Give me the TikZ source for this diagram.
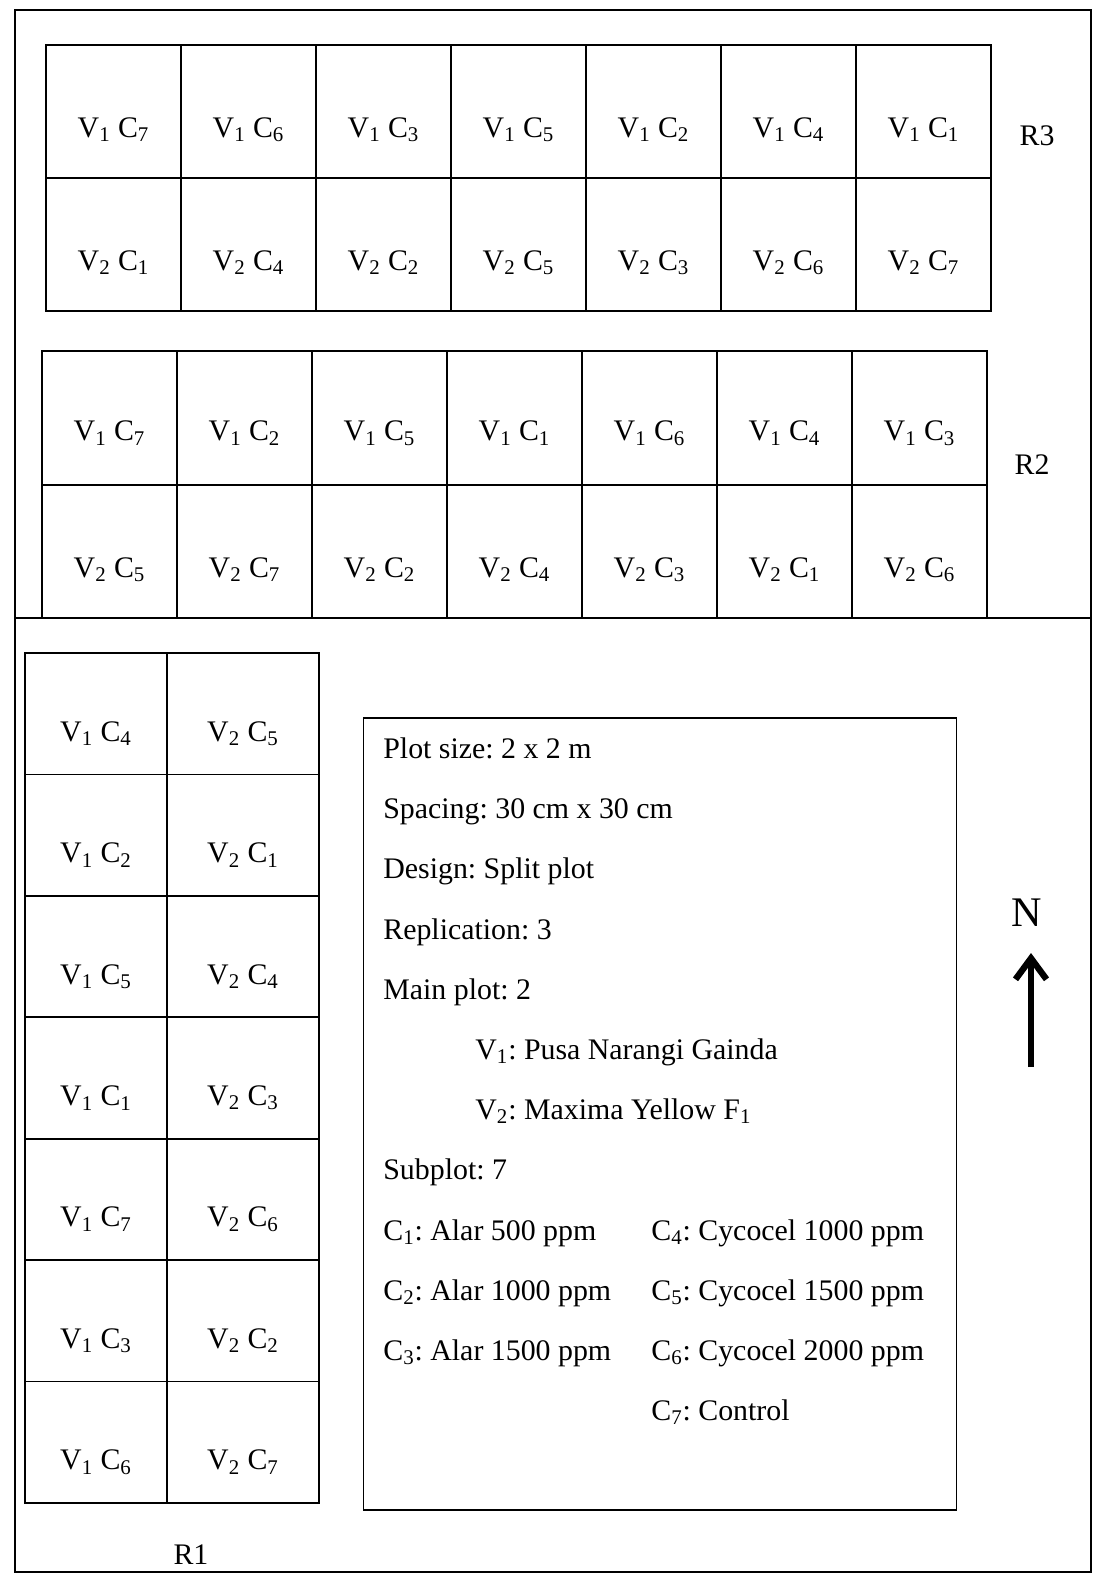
\documentclass[tikz,border=0pt]{standalone}
\usepackage{fontspec}
\setmainfont{Liberation Serif}
\usetikzlibrary{arrows.meta,positioning}
\frenchspacing
\newcommand{\vc}[2]{V\textsubscript{#1} C\textsubscript{#2}}
\tikzset{
  fieldframe/.style={draw,line width=1pt},
  cell/.style={draw,rectangle,line width=1pt,minimum width=2.7cm,minimum height=2.66cm,inner sep=0pt},
  celltxt/.style={font=\fontsize{17}{20}\selectfont,inner sep=0pt},
  replbl/.style={font=\fontsize{17}{20}\selectfont,inner sep=0pt},
  infobox/.style={draw,rectangle,line width=1pt,minimum width=11.86cm,minimum height=15.84cm},
  infotxt/.style={font=\fontsize{17}{20}\selectfont,anchor=base west,inner sep=0pt},
  northarr/.style={-{Straight Barb[length=0.42cm,width=0.62cm]},line width=3.6pt}
}
\begin{document}
\begin{tikzpicture}[x=0.02cm,y=-0.02cm]
  \useasboundingbox (0,0) rectangle (1096,1578);
  % field outline and the line between R2 and R1
  \draw[fieldframe] (15,10) rectangle (1091,1572);
  \draw[fieldframe] (15,618) -- (1091,618);

  % R3
  \foreach \c [count=\i from 0] in {7,6,3,5,2,4,1} {
    \node[cell] (r3a\i) at (113.5+135*\i,111.5) {};
    \node[celltxt] (t3a\i) at ([yshift=-0.36cm]r3a\i.center) {\vc{1}{\c}};
  }
  \foreach \c [count=\i from 0] in {1,4,2,5,3,6,7} {
    \node[cell] (r3b\i) at (113.5+135*\i,244.5) {};
    \node[celltxt] (t3b\i) at ([yshift=-0.36cm]r3b\i.center) {\vc{2}{\c}};
  }
  \node[replbl] (rthree) at (1037,136) {R3};

  % R2
  \foreach \c [count=\i from 0] in {7,2,5,1,6,4,3} {
    \node[cell, minimum height=2.67cm] (r2a\i) at (109.5+135*\i,418) {};
    \node[celltxt] (t2a\i) at ([yshift=-0.3cm]r2a\i.center) {\vc{1}{\c}};
  }
  \foreach \c [count=\i from 0] in {5,7,2,4,3,1,6} {
    \node[cell, minimum height=2.67cm] (r2b\i) at (109.5+135*\i,551.5) {};
    \node[celltxt] (t2b\i) at ([yshift=-0.36cm]r2b\i.center) {\vc{2}{\c}};
  }
  \node[replbl] (rtwo) at (1032,465) {R2};

  % R1
  \foreach \a/\b [count=\i from 0] in {4/5,2/1,5/4,1/3,7/6,3/2,6/7} {
    \node[cell, minimum width=2.84cm, minimum height=2.428cm] (r1a\i) at (96,713.7+121.4*\i) {};
    \node[cell, minimum width=3.04cm, minimum height=2.428cm] (r1b\i) at (243,713.7+121.4*\i) {};
    \node[celltxt] (t1a\i) at ([yshift=-0.4cm]r1a\i.center) {\vc{1}{\a}};
    \node[celltxt] (t1b\i) at ([yshift=-0.4cm]r1b\i.center) {\vc{2}{\b}};
  }
  \node[replbl] (rone) at (191,1555) {R1};

  % details of the trial
  \node[infobox] (info) at (660,1114) {};
  \node[infotxt] (psize) at (383,758) {Plot size: 2 x 2 m};
  \node[infotxt] (spacing) at (383,818) {Spacing: 30 cm x 30 cm};
  \node[infotxt] (design) at (383,878) {Design: Split plot};
  \node[infotxt] (repl) at (383,939) {Replication: 3};
  \node[infotxt] (mainplot) at (383,999) {Main plot: 2};
  \node[infotxt] (vone) at (475,1059) {V\textsubscript{1}: Pusa Narangi Gainda};
  \node[infotxt] (vtwo) at (475,1119) {V\textsubscript{2}: Maxima Yellow F\textsubscript{1}};
  \node[infotxt] (subplot) at (383,1179) {Subplot: 7};
  \node[infotxt] (cone) at (383,1240) {C\textsubscript{1}: Alar 500 ppm};
  \node[infotxt] (ctwo) at (383,1300) {C\textsubscript{2}: Alar 1000 ppm};
  \node[infotxt] (cthree) at (383,1360) {C\textsubscript{3}: Alar 1500 ppm};
  \node[infotxt] (cfour) at (651,1240) {C\textsubscript{4}: Cycocel 1000 ppm};
  \node[infotxt] (cfive) at (651,1300) {C\textsubscript{5}: Cycocel 1500 ppm};
  \node[infotxt] (csix) at (651,1360) {C\textsubscript{6}: Cycocel 2000 ppm};
  \node[infotxt] (cseven) at (651,1420) {C\textsubscript{7}: Control};

  % north arrow
  \node[font=\fontsize{24}{28}\selectfont] (north) at (1027,913) {N};
  \coordinate (nfoot) at (1031,1067);
  \coordinate (ntip) at (1031,953);
  \draw[northarr] (nfoot) -- (ntip);
\end{tikzpicture}
\end{document}
